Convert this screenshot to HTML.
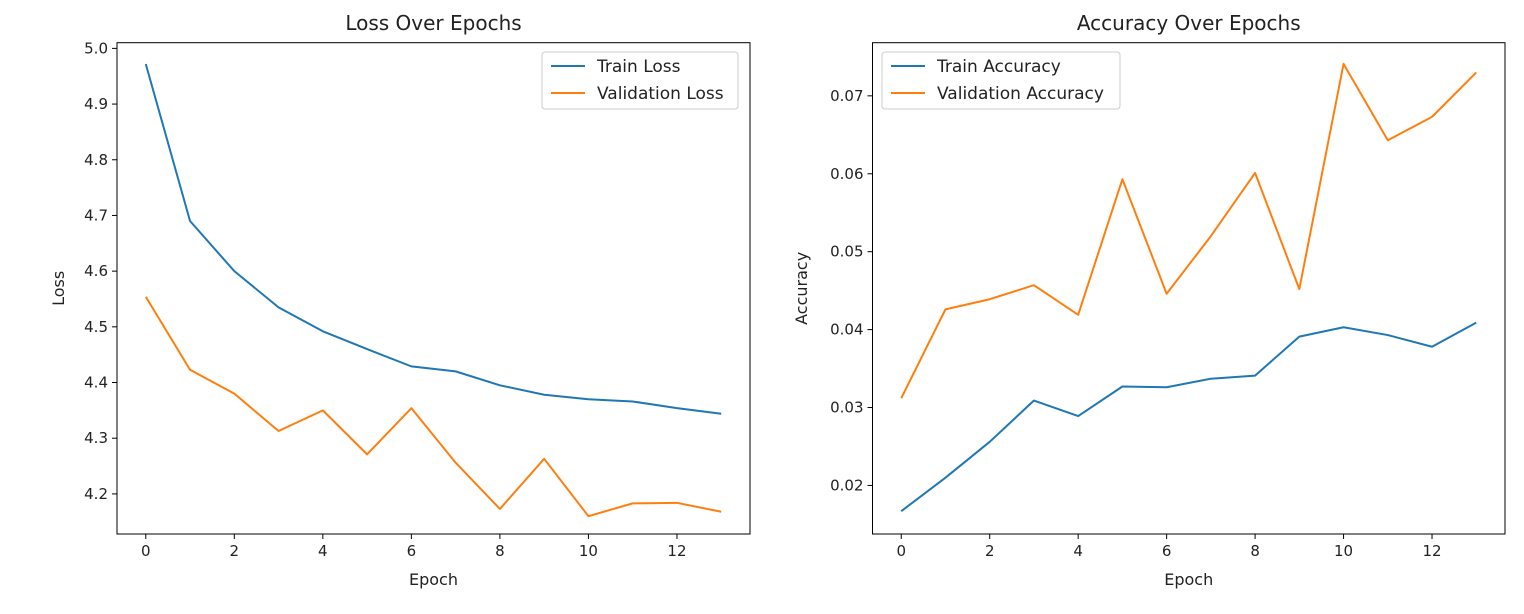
<!DOCTYPE html>
<html><head><meta charset="utf-8"><style>
body{margin:0;background:#fff;}
svg{display:block;font-family:"DejaVu Sans","Liberation Sans",sans-serif;}
</style></head><body>
<svg id="chart" width="1524" height="614" viewBox="0 0 1524 614" xmlns="http://www.w3.org/2000/svg"></svg>
<script>
const epochs = [0,1,2,3,4,5,6,7,8,9,10,11,12,13];
const trainLoss = [4.972,4.690,4.600,4.535,4.492,4.460,4.429,4.420,4.395,4.378,4.370,4.366,4.354,4.344];
const valLoss = [4.554,4.423,4.380,4.313,4.350,4.271,4.354,4.256,4.173,4.263,4.160,4.183,4.184,4.168];
const trainAcc = [0.0167,0.0210,0.0256,0.0309,0.0289,0.0327,0.0326,0.0337,0.0341,0.0391,0.0403,0.0393,0.0378,0.0409];
const valAcc = [0.0312,0.0426,0.0439,0.0457,0.0419,0.0593,0.0446,0.0520,0.0601,0.0452,0.0741,0.0643,0.0673,0.0730];
const xTicks = [0,2,4,6,8,10,12];
const lossTicks = [4.2,4.3,4.4,4.5,4.6,4.7,4.8,4.9,5.0];
const accTicks = [0.02,0.03,0.04,0.05,0.06,0.07];

const svg = document.getElementById('chart');
const NS = 'http://www.w3.org/2000/svg';
function mk(tag, attrs, parent){const e=document.createElementNS(NS,tag);for(const k in attrs)e.setAttribute(k,attrs[k]);(parent||svg).appendChild(e);return e;}

function panel(cfg){
  const g = mk('g',{});
  
  
  const L=cfg.L,R=cfg.R,T=42.7,B=534;
  const xmin=-0.65,xmax=13.65;
  const sx=v=>L+(v-xmin)/(xmax-xmin)*(R-L);
  const sy=v=>B-(v-cfg.ymin)/(cfg.ymax-cfg.ymin)*(B-T);
  xTicks.forEach(t=>{
    const x=sx(t);
    const tk=mk('line',{x1:x,x2:x,y1:B,y2:B+5,stroke:'#000','stroke-width':1},g);
    
    
    const tl=mk('text',{x:x,y:B+22,'text-anchor':'middle','font-size':15,fill:'#222'},g);
    tl.textContent=t;
    
    
  });
  cfg.yTicks.forEach(t=>{
    const y=sy(t);
    const tk=mk('line',{x1:L-5,x2:L,y1:y,y2:y,stroke:'#000','stroke-width':1},g);
    
    
    const tl=mk('text',{x:L-9,y:y+5,'text-anchor':'end','font-size':15,fill:'#222'},g);
    tl.textContent=t.toFixed(cfg.dec);
    
    
  });
  [[cfg.s1,'#1f77b4',cfg.n1],[cfg.s2,'#ff7f0e',cfg.n2]].forEach(([d,c,n])=>{
    const p=mk('polyline',{points:d.map((v,i)=>sx(epochs[i])+','+sy(v)).join(' '),fill:'none',stroke:c,'stroke-width':2,'stroke-linejoin':'round'},g);
    
    
  });
  const fr=mk('rect',{x:L,y:T,width:R-L,height:B-T,fill:'none',stroke:'#000','stroke-width':1},g);
  
  
  const ti=mk('text',{x:(L+R)/2,y:30,'text-anchor':'middle','font-size':20,fill:'#222'},g);
  ti.textContent=cfg.title;
  
  
  const xl=mk('text',{x:(L+R)/2,y:585,'text-anchor':'middle','font-size':16,fill:'#222'},g);
  xl.textContent='Epoch';
  
  
  const yl=mk('text',{x:cfg.ylx,y:(T+B)/2,'text-anchor':'middle','font-size':16,fill:'#222',transform:`rotate(-90 ${cfg.ylx} ${(T+B)/2})`},g);
  yl.textContent=cfg.ylabel;
  
  
  const lg=mk('g',{},g);
  
  
  mk('rect',{x:cfg.lx,y:52,width:cfg.lw,height:57,rx:3,fill:'#fff',stroke:'#ccc','stroke-width':1},lg);
  [[cfg.l1,'#1f77b4',66],[cfg.l2,'#ff7f0e',93]].forEach(([txt,c,y])=>{
    const e=mk('g',{},lg);
    
    
    mk('line',{x1:cfg.lx+9,x2:cfg.lx+43,y1:y,y2:y,stroke:c,'stroke-width':2},e);
    const t=mk('text',{x:cfg.lx+55,y:y+6,'font-size':17,fill:'#222'},e);
    t.textContent=txt;
  });
}
panel({name:'loss-chart',L:117,R:750,ymin:4.128,ymax:5.0102,yTicks:lossTicks,dec:1,s1:trainLoss,s2:valLoss,n1:'train-loss-line',n2:'validation-loss-line',title:'Loss Over Epochs',ylabel:'Loss',ylx:64,lx:542,lw:196,l1:'Train Loss',l2:'Validation Loss'});
panel({name:'accuracy-chart',L:872.5,R:1505,ymin:0.01377,ymax:0.07682,yTicks:accTicks,dec:2,s1:trainAcc,s2:valAcc,n1:'train-accuracy-line',n2:'validation-accuracy-line',title:'Accuracy Over Epochs',ylabel:'Accuracy',ylx:807,lx:882,lw:238,l1:'Train Accuracy',l2:'Validation Accuracy'});
</script>
</body></html>
